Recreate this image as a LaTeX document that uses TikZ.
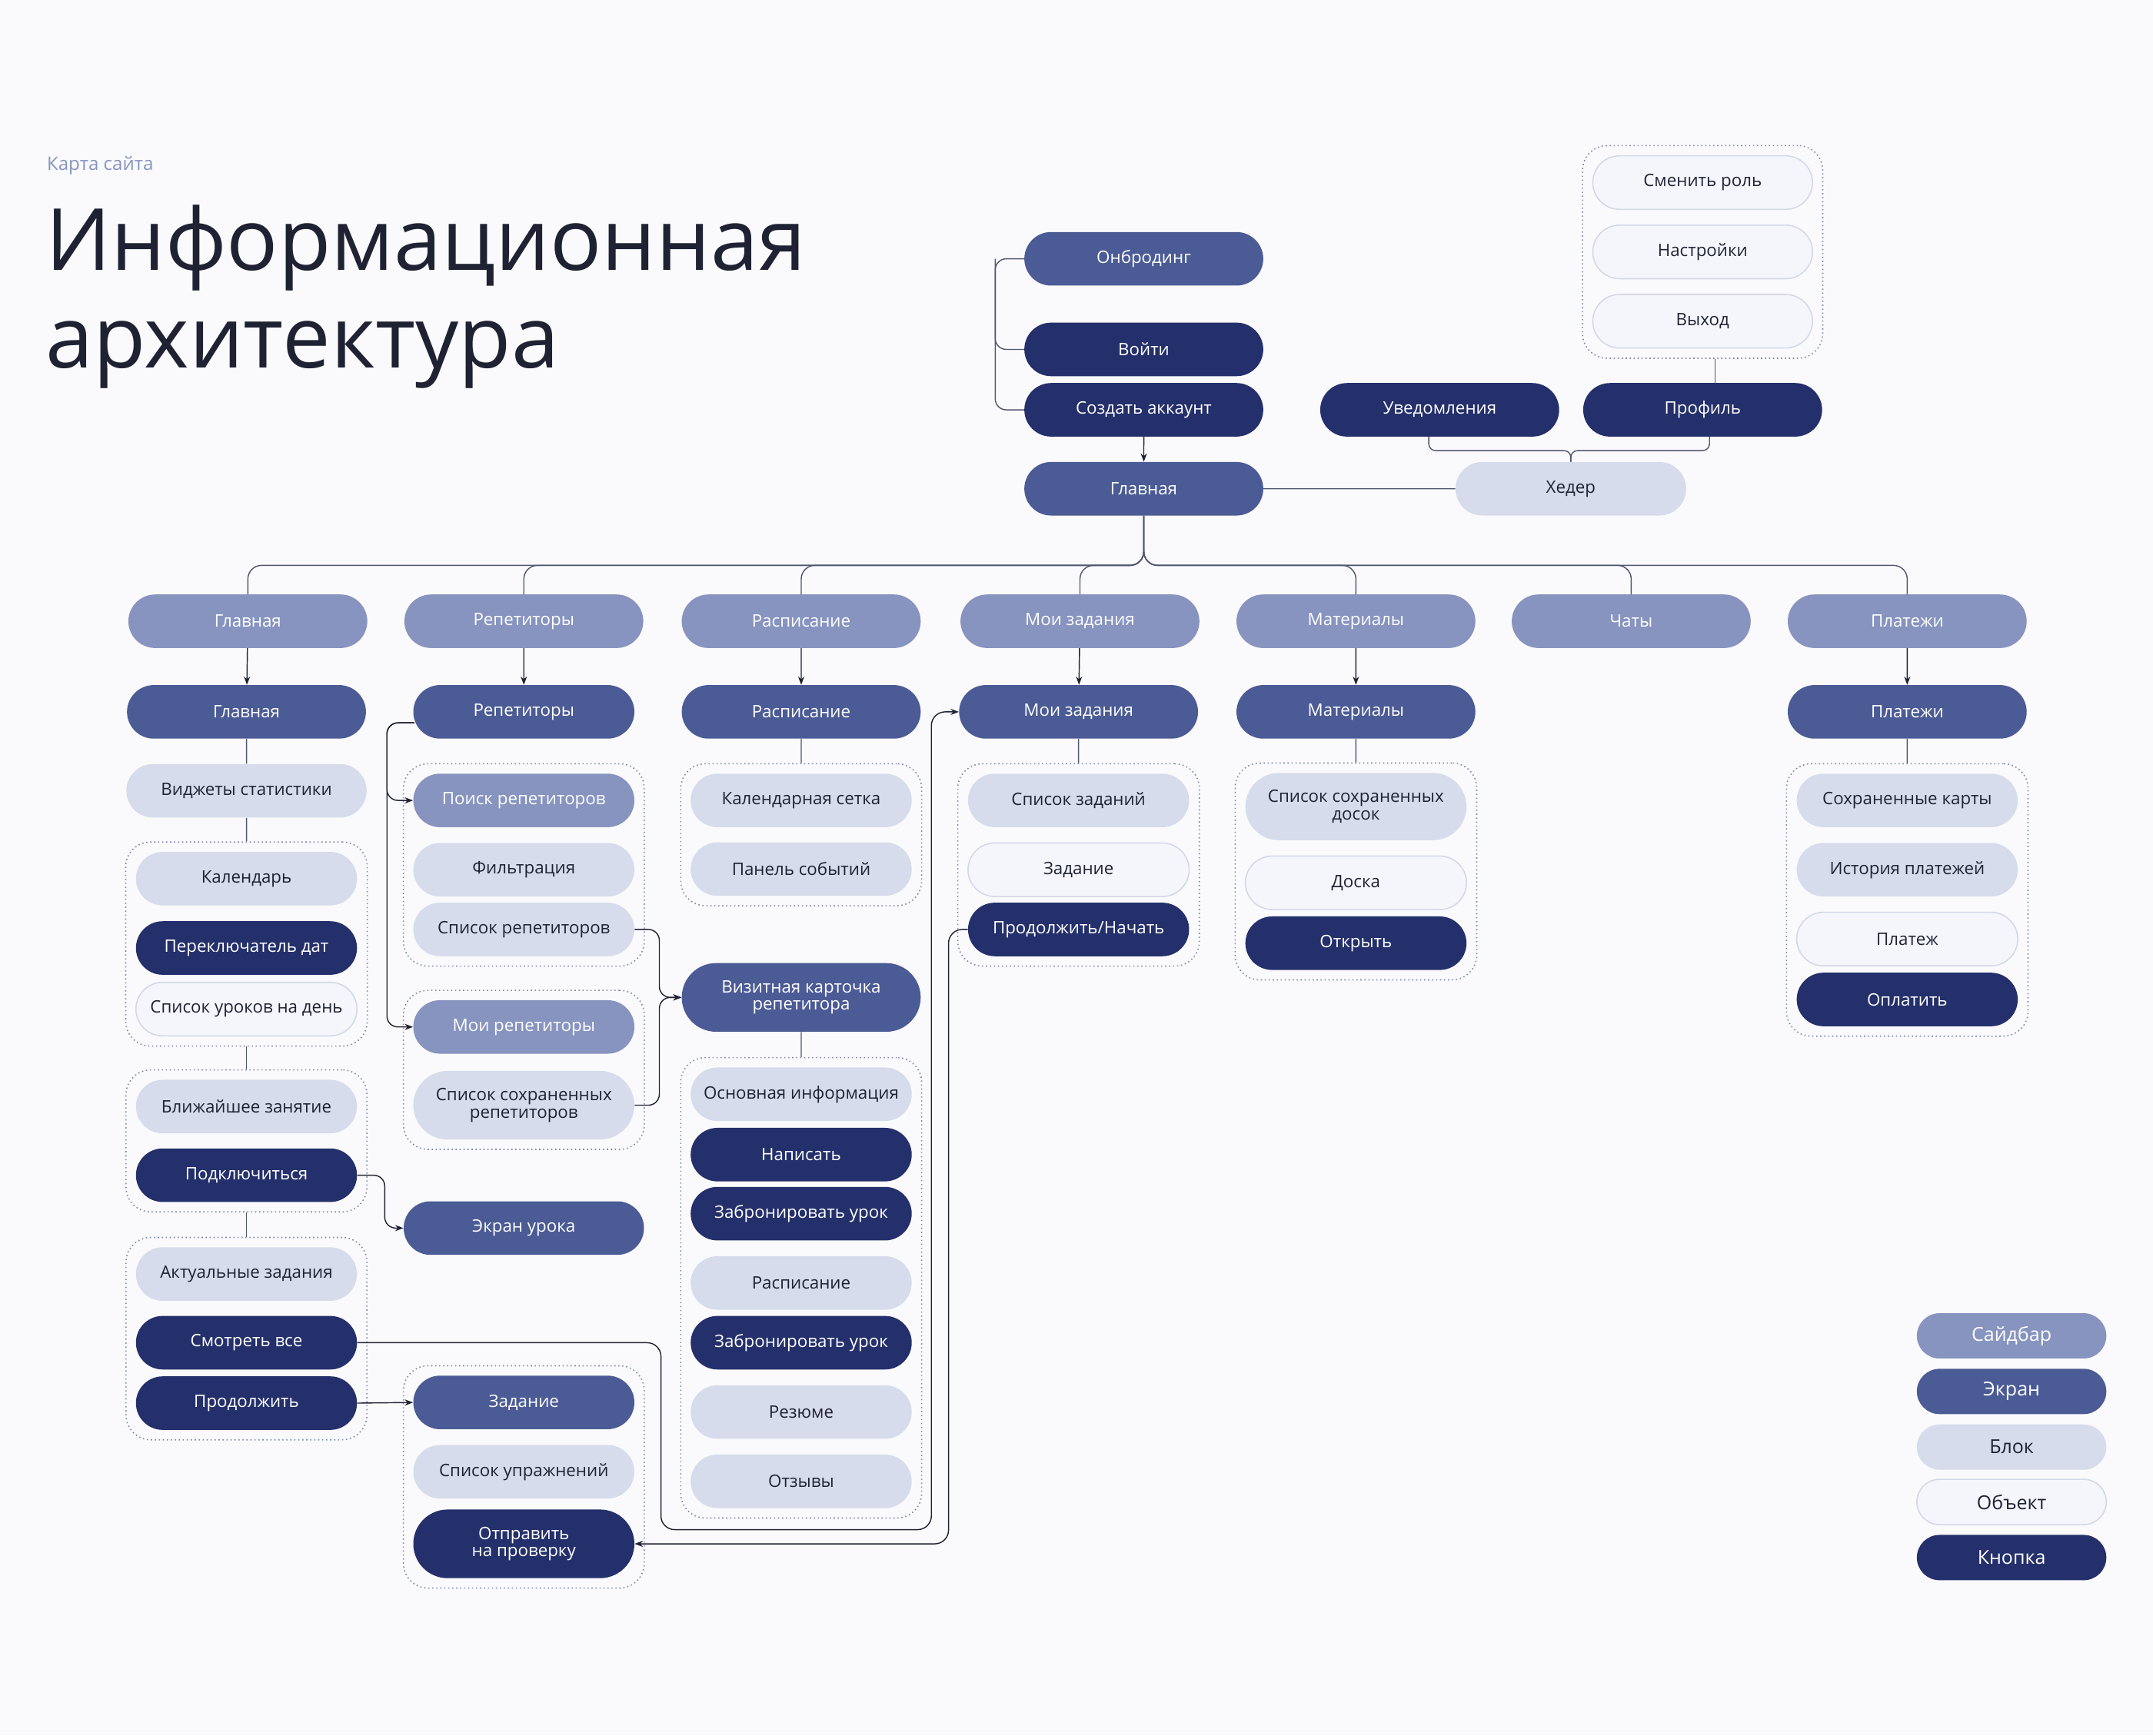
\documentclass[tikz,border=0pt]{standalone}
\usepackage{fontspec}
\setmainfont{Open Sans}
\usetikzlibrary{shapes.misc,arrows.meta,fit,calc}

\definecolor{bgcol}{HTML}{FAFAFC}
\definecolor{sidecol}{HTML}{8794C0}
\definecolor{screencol}{HTML}{4B5B95}
\definecolor{blockcol}{HTML}{D7DCEC}
\definecolor{objcol}{HTML}{F5F6FB}
\definecolor{objline}{HTML}{D3D8EA}
\definecolor{btncol}{HTML}{24306B}
\definecolor{inkcol}{HTML}{1F2233}
\definecolor{grpcol}{HTML}{7F89B5}
\definecolor{linecol}{HTML}{505670}

\tikzset{
  pill/.style={rounded rectangle, minimum width=174pt, minimum height=39pt, inner sep=0pt,
    align=center, font=\fontsize{12.5}{12.5}\selectfont},
  sidebar/.style={pill, fill=sidecol, text=white},
  screen/.style={pill, fill=screencol, text=white},
  block/.style={pill, fill=blockcol, text=inkcol},
  object/.style={pill, fill=objcol, draw=objline, line width=0.9pt, text=inkcol},
  button/.style={pill, fill=btncol, text=white},
  small/.style={minimum width=161pt},
  tall/.style={minimum height=50pt},
  legend/.style={minimum width=138pt, minimum height=33pt, font=\fontsize{14}{14}\selectfont},
  grp/.style={draw=grpcol, dotted, line width=0.9pt, rounded corners=18pt, inner sep=7pt},
  line/.style={draw=linecol, line width=0.8pt},
  arr/.style={draw=inkcol, line width=0.8pt, -{Stealth[length=6pt,width=4.5pt]}},
}

\begin{document}
\begin{tikzpicture}[x=1pt,y=1pt,yscale=-1]
% background
\fill[bgcol] (0,0) rectangle (1568,1264);

% Title
\node[anchor=base west, inner sep=0pt, text=sidecol, font=\fontsize{13.5}{13.5}\selectfont] (kicker) at (34,124) {Карта сайта};
\node[anchor=base west, inner sep=0pt, text=inkcol, font=\fontsize{62.5}{62.5}\selectfont] (title1) at (33,197) {Информационная};
\node[anchor=base west, inner sep=0pt, text=inkcol, font=\fontsize{62.5}{62.5}\selectfont] (title2) at (33,268) {архитектура};

% Top: entry and header
\node[screen] (onb) at (833,188.5) {Онбродинг};
\node[button] (voyti) at (833,254.5) {Войти};
\node[button] (akk) at (833,298.5) {Создать аккаунт};
\node[screen] (home) at (833,356) {Главная};
\node[block, minimum width=168pt] (header) at (1144,356) {Хедер};
\node[button] (notif) at (1048.5,298.5) {Уведомления};
\node[button] (prof) at (1240,298.5) {Профиль};
\node[object, minimum width=160pt] (role) at (1240,133) {Сменить роль};
\node[object, minimum width=160pt] (sett) at (1240,183.5) {Настройки};
\node[object, minimum width=160pt] (exit) at (1240,234) {Выход};
\node[grp, fit=(role)(sett)(exit)] (pgrp) {};

% Sidebar row
\node[sidebar] (sb1) at (180.5,452.5) {Главная};
\node[sidebar] (sb2) at (381.5,452.5) {Репетиторы};
\node[sidebar] (sb3) at (583.5,452.5) {Расписание};
\node[sidebar] (sb4) at (786.5,452.5) {Мои задания};
\node[sidebar] (sb5) at (987.5,452.5) {Материалы};
\node[sidebar] (sb6) at (1188,452.5) {Чаты};
\node[sidebar] (sb7) at (1389,452.5) {Платежи};

% Screen row
\node[screen] (sc1) at (179.5,518.5) {Главная};
\node[screen, small] (sc2) at (381.5,518.5) {Репетиторы};
\node[screen] (sc3) at (583.5,518.5) {Расписание};
\node[screen] (sc4) at (785.5,518.5) {Мои задания};
\node[screen] (sc5) at (987.5,518.5) {Материалы};
\node[screen] (sc7) at (1389,518.5) {Платежи};

% Col 1
\node[block, minimum width=175pt] (vid) at (179.5,576) {Виджеты статистики};
\node[block, small] (kal) at (179.5,640) {Календарь};
\node[button, small] (pere) at (179.5,690.5) {Переключатель дат};
\node[object, small] (spur) at (179.5,735) {Список уроков на день};
\node[grp, fit=(kal)(pere)(spur)] (g1) {};
\node[block, small] (bliz) at (179.5,806) {Ближайшее занятие};
\node[button, small] (podkl) at (179.5,856) {Подключиться};
\node[grp, fit=(bliz)(podkl)] (g2) {};
\node[block, small] (akt) at (179.5,928) {Актуальные задания};
\node[button, small] (smotr) at (179.5,978) {Смотреть все};
\node[button, small] (prod) at (179.5,1022) {Продолжить};
\node[grp, fit=(akt)(smotr)(prod)] (g3) {};

% Col 2
\node[sidebar, small] (poisk) at (381.5,583) {Поиск репетиторов};
\node[block, small] (filtr) at (381.5,633.5) {Фильтрация};
\node[block, small] (spis) at (381.5,677) {Список репетиторов};
\node[grp, fit=(poisk)(filtr)(spis)] (gA) {};
\node[sidebar, small] (moi) at (381.5,748) {Мои репетиторы};
\node[block, small, tall] (sohr) at (381.5,805) {Список сохраненных\\репетиторов};
\node[grp, fit=(moi)(sohr)] (gB) {};
\node[screen, minimum width=175pt] (ekran) at (381.5,894.5) {Экран урока};
\node[screen, small] (zad) at (381.5,1021.5) {Задание};
\node[block, small] (upr) at (381.5,1072) {Список упражнений};
\node[button, small, tall] (otpr) at (381.5,1124.5) {Отправить\\на проверку};
\node[grp, fit=(zad)(upr)(otpr)] (gC) {};

% Col 3
\node[block, small] (kals) at (583.5,583) {Календарная сетка};
\node[block, small] (pan) at (583.5,633) {Панель событий};
\node[grp, fit=(kals)(pan)] (gS) {};
\node[screen, tall] (viz) at (583.5,726.5) {Визитная карточка\\репетитора};
\node[block, small] (osn) at (583.5,797) {Основная информация};
\node[button, small] (nap) at (583.5,841) {Написать};
\node[button, small] (zab1) at (583.5,884) {Забронировать урок};
\node[block, small] (rasp) at (583.5,934.5) {Расписание};
\node[button, small] (zab2) at (583.5,978) {Забронировать урок};
\node[block, small] (rez) at (583.5,1028.5) {Резюме};
\node[block, small] (otz) at (583.5,1079) {Отзывы};
\node[grp, fit=(osn)(otz)] (gV) {};

% Col 4
\node[block, small] (spz) at (785.5,583) {Список заданий};
\node[object, small] (zd) at (785.5,633.5) {Задание};
\node[button, small] (prn) at (785.5,677) {Продолжить/Начать};
\node[grp, fit=(spz)(zd)(prn)] (gZ) {};

% Col 5
\node[block, small, minimum height=49pt] (sdos) at (987.5,587.5) {Список сохраненных\\досок};
\node[object, small] (dos) at (987.5,643) {Доска};
\node[button, small] (otkr) at (987.5,687) {Открыть};
\node[grp, fit=(sdos)(dos)(otkr)] (gM) {};

% Col 7
\node[block, small] (skar) at (1389,583) {Сохраненные карты};
\node[block, small] (ist) at (1389,633.5) {История платежей};
\node[object, small] (plat) at (1389,684) {Платеж};
\node[button, small] (opl) at (1389,728) {Оплатить};
\node[grp, fit=(skar)(ist)(plat)(opl)] (gP) {};

% Legend
\node[sidebar, legend] (lg1) at (1465,973) {Сайдбар};
\node[screen, legend] (lg2) at (1465,1013.5) {Экран};
\node[block, legend] (lg3) at (1465,1054) {Блок};
\node[object, legend] (lg4) at (1465,1094) {Объект};
\node[button, legend] (lg5) at (1465,1134.5) {Кнопка};

% Connectors: top
\draw[line, rounded corners=8pt] (onb.west) -- ++(-21,0) |- (akk.west);
\draw[line, rounded corners=8pt] ($(onb.west)+(-21,0)$) |- (voyti.west);
\draw[arr] (akk) -- (home);
\draw[line] (home) -- (header);
\draw[line, rounded corners=5pt] ($(notif.south)+(-8,0)$) -- ++(0,10) -| (header.north);
\draw[line, rounded corners=5pt] ($(prof.south)+(5,0)$) -- ++(0,10) -| (header.north);
\draw[line] ($(pgrp.south)+(9,0)$) -- ($(prof.north)+(9,0)$);
\foreach \s in {sb1,sb2,sb3,sb4,sb5,sb6,sb7}
  \draw[line, rounded corners=10pt] (home.south) |- ($(\s.north)+(0,-21)$) -- (\s.north);

% Connectors: sidebar to screens
\draw[arr] (sb1) -- (sc1);
\draw[arr] (sb2) -- (sc2);
\draw[arr] (sb3) -- (sc3);
\draw[arr] (sb4) -- (sc4);
\draw[arr] (sb5) -- (sc5);
\draw[arr] (sb7) -- (sc7);

% Connectors: screens to blocks
\draw[line] (sc1) -- (vid);
\draw[line] (vid) -- (g1);
\draw[line] (g1) -- (g2);
\draw[line] (g2) -- (g3);
\draw[line] (sc3) -- (gS);
\draw[line] (viz) -- (gV);
\draw[line] (sc4) -- (gZ);
\draw[line] (sc5) -- (gM);
\draw[line] (sc7) -- (gP);

% Connectors: jumps
\draw[arr, rounded corners=8pt] ($(sc2.west)+(1,8)$) -- ++(-20,0) |- (poisk.west);
\draw[arr, rounded corners=8pt] ($(sc2.west)+(1,8)$) -- ++(-20,0) |- (moi.west);
\draw[arr, rounded corners=8pt] (spis.east) -- ++(18,0) |- (viz.west);
\draw[arr, rounded corners=8pt] (sohr.east) -- ++(18,0) |- (viz.west);
\draw[arr, rounded corners=8pt] (podkl.east) -- ++(20,0) |- (ekran.west);
\draw[arr] (prod.east) -- (zad.west);
\draw[arr, rounded corners=10pt] (smotr.east) -| ($(gV.south west)+(-14,8)$) -| ($(sc4.west)+(-20,0)$) -- (sc4.west);
\draw[arr, rounded corners=10pt] (prn.west) -- ++(-14,0) |- (otpr.east);

\end{tikzpicture}
\end{document}
